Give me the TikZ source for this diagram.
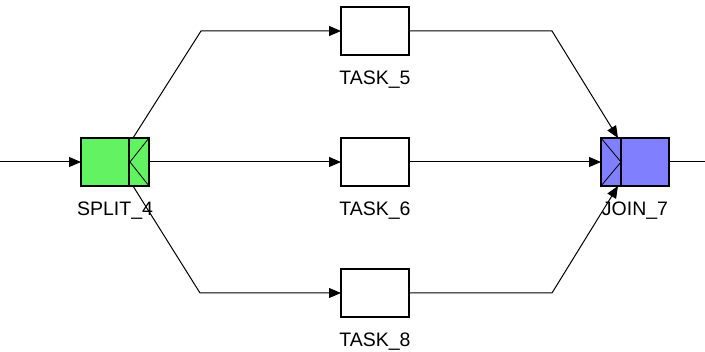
\documentclass[tikz,border=0pt]{standalone}
\usepackage{fontspec}
\setmainfont{Liberation Sans}
\usetikzlibrary{arrows.meta,positioning}
\definecolor{splitgreen}{RGB}{98,242,98}
\definecolor{joinblue}{RGB}{128,128,255}

\begin{document}
\begin{tikzpicture}[x=1pt,y=1pt,
        box/.style={draw,line width=1.2pt,minimum width=68pt,minimum height=48pt,inner sep=0pt,outer sep=0pt},
        task/.style={box,fill=white},
        splitbox/.style={box,fill=splitgreen},
        joinbox/.style={box,fill=joinblue},
        lbl/.style={font=\fontsize{19.5}{20}\selectfont,anchor=base,inner sep=0pt},
        flow/.style={line width=1pt,-{Triangle[length=12pt,width=10pt]}},
        wire/.style={line width=1pt}
      ]
  \useasboundingbox (0,0) rectangle (705,352);

  \node   (split) [splitbox] at (115,190) {};
  \draw[line width=1.2pt] ([xshift=-20pt]split.north east) -- ([xshift=-20pt]split.south east);
  \draw[line width=0.8pt] (split.north east) -- ([xshift=-19pt]split.east) -- (split.south east);
  \node   (splitlbl) [lbl] at ([yshift=-30pt]split.south) {SPLIT\_4};

  \node   (t6) [task,right=192pt of split] {};
  \node   (t5) [task,above=83pt of t6] {};
  \node   (t8) [task,below=83pt of t6] {};
  \node   (t5lbl) [lbl] at ([yshift=-30pt]t5.south) {TASK\_5};
  \node   (t6lbl) [lbl] at ([yshift=-30pt]t6.south) {TASK\_6};
  \node   (t8lbl) [lbl] at ([yshift=-30pt]t8.south) {TASK\_8};

  \node   (join) [joinbox,right=192pt of t6] {};
  \draw[line width=1.2pt] ([xshift=20pt]join.north west) -- ([xshift=20pt]join.south west);
  \draw[line width=0.8pt] (join.north west) -- ([xshift=20pt]join.west) -- (join.south west);
  \node   (joinlbl) [lbl] at ([yshift=-30pt]join.south) {JOIN\_7};

  % ends and bends
  \coordinate (in) at (0,190);
  \coordinate (out) at (705,190);
  \coordinate (b5) at (201,321);
  \coordinate (b8) at (200,59);
  \coordinate (c5) at (552,321);
  \coordinate (c8) at (552,59);

  \draw[flow] (in) -- (split.west);
  \draw[flow] (split.east) -- (t6.west);
  \draw[flow] ([xshift=18pt]split.north) -- (b5) -- (t5.west);
  \draw[flow] ([xshift=18pt]split.south) -- (b8) -- (t8.west);

  \draw[flow] (t6.east) -- (join.west);
  \draw[flow] (t5.east) -- (c5) -- ([xshift=-17pt]join.north);
  \draw[flow] (t8.east) -- (c8) -- ([xshift=-17pt]join.south);
  \draw[wire] (join.east) -- (out);
\end{tikzpicture}
\end{document}
